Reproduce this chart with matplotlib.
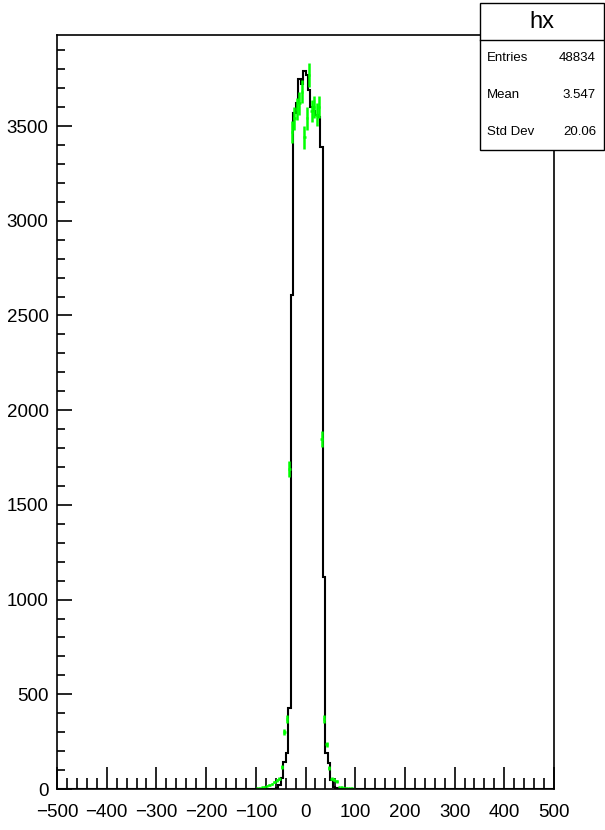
import numpy as np
import matplotlib.pyplot as plt
from matplotlib.patches import Rectangle
from matplotlib.ticker import MultipleLocator

plt.rcParams['font.family'] = ['Liberation Sans', 'DejaVu Sans']

# histogram "hx": 200 bins of width 5 on [-500, 500]
bin_width = 5
x_lo, x_hi = -500, 500

# black histogram, counts of non-empty bins starting at edge black_start
black_start = -65
black_counts = [2, 5, 20, 60, 140, 190, 428, 2608,
                3569, 3620, 3750, 3720, 3791, 3770, 3690, 3600,
                3580, 3560, 3550, 3390, 1119, 190, 137, 48, 10, 3]

# green histogram (drawn with error bars), starting at edge green_start
green_start = -100
green_counts = [3, 5, 8, 12, 18, 22, 28, 35, 45, 55,
                118, 302, 370, 1688,
                3470, 3540, 3590, 3620, 3680, 3440, 3540, 3770, 3580, 3600, 3560, 3600,
                1846, 370, 235, 110, 55, 50, 40, 10, 8, 6, 5, 4, 3, 2]

stats_labels = ['Entries', 'Mean', 'Std Dev']
stats_values = ['48834', '3.547', '20.06']

edges = np.arange(x_lo, x_hi + bin_width, bin_width)
black = np.zeros(len(edges) - 1)
i0 = (black_start - x_lo) // bin_width
black[i0:i0 + len(black_counts)] = black_counts

g_edges = green_start + bin_width * np.arange(len(green_counts) + 1)
g_centers = 0.5 * (g_edges[:-1] + g_edges[1:])
green = np.array(green_counts, dtype=float)

fig = plt.figure(figsize=(6.05, 8.30), dpi=100)
ax = fig.add_axes([57 / 605, 41 / 830, 497 / 605, 754 / 830])

ax.stairs(black, edges, color='black', lw=1.5, baseline=None)
ax.errorbar(g_centers, green, yerr=np.sqrt(green), xerr=bin_width / 2,
            fmt='none', ecolor='#00ff00', elinewidth=1.8, capsize=0)

ax.set_xlim(x_lo, x_hi)
ax.set_ylim(0, 1.05 * black.max())

ax.xaxis.set_major_locator(MultipleLocator(100))
ax.xaxis.set_minor_locator(MultipleLocator(20))
ax.yaxis.set_major_locator(MultipleLocator(500))
ax.yaxis.set_minor_locator(MultipleLocator(100))
ax.tick_params(axis='both', which='both', direction='in', top=False, right=False,
               width=1.2, labelsize=13.5)
ax.tick_params(axis='x', which='major', length=16, pad=11)
ax.tick_params(axis='x', which='minor', length=8)
ax.tick_params(axis='y', which='major', length=11, pad=6)
ax.tick_params(axis='y', which='minor', length=5.5)
ax.set_xticks(np.arange(-500, 501, 100))
ax.set_xticklabels([('\u2212' + str(-v)) if v < 0 else str(v) for v in range(-500, 501, 100)])
for s in ax.spines.values():
    s.set_linewidth(1.2)

# stats box
bx0, bx1, by0, by1, sep = 480, 604, 3, 150, 40
W, H = 605, 830
fig.patches.append(Rectangle((bx0 / W, 1 - by1 / H), (bx1 - bx0) / W, (by1 - by0) / H,
                             transform=fig.transFigure, facecolor='white',
                             edgecolor='black', lw=1.0, zorder=5))
fig.add_artist(plt.Line2D([bx0 / W, bx1 / W], [1 - sep / H, 1 - sep / H],
                          transform=fig.transFigure, color='black', lw=1.0, zorder=6))
fig.text((bx0 + bx1) / 2 / W, 1 - (by0 + sep) / 2 / H, 'hx', ha='center', va='center',
         fontsize=17, zorder=7)
row_h = (by1 - sep) / 3
for k, (lab, val) in enumerate(zip(stats_labels, stats_values)):
    yc = 1 - (sep + row_h * (k + 0.5)) / H
    fig.text(487 / W, yc, lab, ha='left', va='center', fontsize=9.5, zorder=7)
    fig.text(596 / W, yc, val, ha='right', va='center', fontsize=9.5, zorder=7)

fig.savefig('out.png', dpi=100)
